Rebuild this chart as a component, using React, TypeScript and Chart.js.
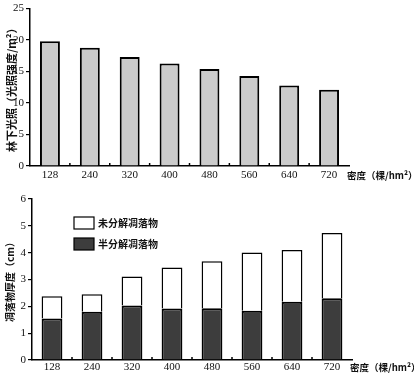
import React, { useEffect, useRef } from 'react';
import { Chart, registerables } from 'chart.js';
Chart.register(...registerables);

const densities = ['128', '240', '320', '400', '480', '560', '640', '720'];
const lightValues = [19.8, 18.8, 17.3, 16.3, 15.4, 14.3, 12.8, 12.1];
const semiDecomposed = [1.55, 1.8, 2.03, 1.92, 1.93, 1.84, 2.17, 2.3];
const undecomposed = [0.83, 0.65, 1.08, 1.53, 1.75, 2.17, 1.93, 2.43];
const lightTicks = [0, 5, 10, 15, 20, 25];
const litterTicks = [0, 1, 2, 3, 4, 5, 6];

const CJK = '"Noto Sans CJK SC", sans-serif';
const SERIF = '"Liberation Serif", "DejaVu Serif", serif';
const X_TITLE = '密度（棵/hm²）';

const xTitlePlugin = (dy: number) => ({
  id: 'xTitleRight',
  afterDraw(chart: any) {
    const { ctx, chartArea } = chart;
    ctx.save();
    ctx.font = `bold 9.5px ${CJK}`;
    ctx.fillStyle = '#111';
    ctx.textAlign = 'left';
    ctx.textBaseline = 'middle';
    ctx.fillText(X_TITLE, chartArea.right - 2, chartArea.bottom + dy);
    ctx.restore();
  },
});

const boundaryTicks = {
  id: 'boundaryTicks',
  afterDraw(chart: any) {
    const { ctx, chartArea } = chart;
    const x = chart.scales.x;
    ctx.save();
    ctx.strokeStyle = '#000';
    ctx.lineWidth = 1.5;
    for (let i = 1; i < densities.length; i++) {
      const px = (x.getPixelForTick(i - 1) + x.getPixelForTick(i)) / 2;
      ctx.beginPath();
      ctx.moveTo(px, chartArea.bottom);
      ctx.lineTo(px, chartArea.bottom - 3);
      ctx.stroke();
    }
    ctx.restore();
  },
};

const legendPlugin = {
  id: 'insideLegend',
  afterDraw(chart: any) {
    const { ctx, chartArea } = chart;
    const ds = chart.data.datasets.slice().reverse();
    ctx.save();
    ds.forEach((d: any, i: number) => {
      const bx = chartArea.left + 42;
      const by = chartArea.top + 18 + i * 21;
      ctx.fillStyle = d.backgroundColor;
      ctx.fillRect(bx, by, 20, 12);
      ctx.strokeStyle = '#000';
      ctx.lineWidth = 1.2;
      ctx.strokeRect(bx, by, 20, 12);
      ctx.fillStyle = '#111';
      ctx.font = `bold 10px ${CJK}`;
      ctx.textAlign = 'left';
      ctx.textBaseline = 'middle';
      ctx.fillText(d.label, bx + 24, by + 6);
    });
    ctx.restore();
  },
};

function baseScales(yMax: number, yStep: number, yTitle: string, yTitleSize: number, yWidth: number, xHeight: number, xPad: number, titlePad: number, yTickVals: number[]) {
  return {
    x: {
      stacked: true,
      grid: { display: false, drawTicks: false },
      border: { display: true, color: '#000', width: 1.5 },
      ticks: { color: '#111', font: { family: SERIF, size: 11 }, padding: xPad },
      afterFit(s: any) { s.height = xHeight; },
    },
    y: {
      stacked: true,
      min: 0,
      max: yMax,
      afterBuildTicks(s: any) { s.ticks = yTickVals.map((v) => ({ value: v })); },
      ticks: { stepSize: yStep, color: '#111', font: { family: SERIF, size: 11 }, padding: 2 },
      grid: { display: true, drawOnChartArea: false, drawTicks: true, tickLength: 4, color: '#000', lineWidth: 1.2 },
      border: { display: true, color: '#000', width: 1.5 },
      title: { display: true, text: yTitle, color: '#111', font: { family: CJK, size: yTitleSize, weight: 'bold' }, padding: { top: titlePad, bottom: 0 } },
      afterFit(s: any) { s.width = yWidth; },
    },
  };
}

export default function App() {
  const topRef = useRef<HTMLCanvasElement>(null);
  const botRef = useRef<HTMLCanvasElement>(null);

  useEffect(() => {
    const top = new Chart(topRef.current!, {
      type: 'bar',
      data: {
        labels: densities,
        datasets: [
          {
            label: '林下光照',
            data: lightValues,
            backgroundColor: '#cbcbcb',
            borderColor: '#000',
            borderWidth: 2,
            categoryPercentage: 1,
            barPercentage: 0.5,
          },
        ],
      },
      options: {
        animation: false,
        responsive: false,
        maintainAspectRatio: false,
        layout: { padding: { top: 6, right: 65, left: 0, bottom: 0 } },
        plugins: { legend: { display: false }, tooltip: { enabled: false } },
        scales: baseScales(25, 5, '林下光照（光照强度/m²）', 11, 30, 21, 3, 5, lightTicks) as any,
      },
      plugins: [xTitlePlugin(9), boundaryTicks],
    });

    const bot = new Chart(botRef.current!, {
      type: 'bar',
      data: {
        labels: densities,
        datasets: [
          {
            label: '半分解凋落物',
            data: semiDecomposed,
            backgroundColor: '#3d3d3d',
            borderColor: '#000',
            borderWidth: 2,
            categoryPercentage: 1,
            barPercentage: 0.52,
          },
          {
            label: '未分解凋落物',
            data: undecomposed,
            backgroundColor: '#ffffff',
            borderColor: '#000',
            borderWidth: 1.5,
            categoryPercentage: 1,
            barPercentage: 0.52,
          },
        ],
      },
      options: {
        animation: false,
        responsive: false,
        maintainAspectRatio: false,
        layout: { padding: { top: 12, right: 62, left: 0, bottom: 0 } },
        plugins: { legend: { display: false }, tooltip: { enabled: false } },
        scales: baseScales(6, 1, '凋落物厚度（cm）', 10, 32, 14, 1, 4, litterTicks) as any,
      },
      plugins: [xTitlePlugin(7), boundaryTicks, legendPlugin],
    });

    return () => {
      top.destroy();
      bot.destroy();
    };
  }, []);

  return (
    <div style={{ position: 'fixed', left: 0, top: 0, width: 414, height: 374, background: '#fff' }}>
      <canvas ref={topRef} width={414} height={187} style={{ position: 'absolute', left: 0, top: 0, width: 414, height: 187 }} />
      <canvas ref={botRef} width={414} height={187} style={{ position: 'absolute', left: 0, top: 187, width: 414, height: 187 }} />
    </div>
  );
}
